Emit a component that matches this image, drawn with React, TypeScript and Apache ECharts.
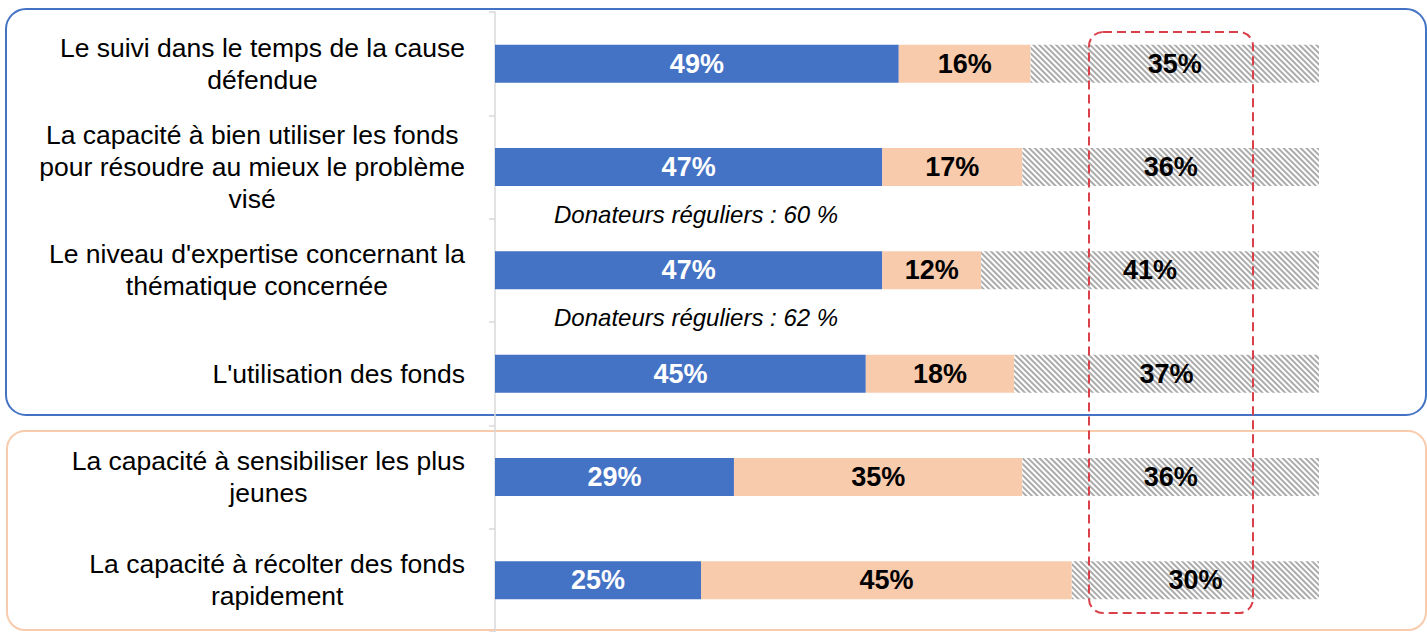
import React, { useEffect, useRef } from "react";
import * as echarts from "echarts";

const categories = [
  "Le suivi dans le temps de la cause\ndéfendue",
  "La capacité à bien utiliser les fonds\npour résoudre au mieux le problème\nvisé",
  "Le niveau d'expertise concernant la\nthématique concernée",
  "L'utilisation des fonds",
  "La capacité à sensibiliser les plus\njeunes",
  "La capacité à récolter des fonds\nrapidement",
];
const goodValues = [49, 47, 47, 45, 29, 25];
const averageValues = [16, 17, 12, 18, 35, 45];
const unknownValues = [35, 36, 41, 37, 36, 30];
const notes = ["Donateurs réguliers : 60 %", "Donateurs réguliers : 62 %"];

const FONT = "'Liberation Sans', Arial, sans-serif";

export default function App() {
  const ref = useRef<HTMLDivElement>(null);
  useEffect(() => {
    if (!ref.current) return;
    const chart = echarts.init(ref.current, undefined, { renderer: "svg" });
    const barLabel = (color: string) => ({
      show: true,
      position: "inside",
      formatter: "{c}%",
      color,
      fontWeight: "bold",
      fontSize: 27,
      fontFamily: FONT,
    });
    chart.setOption({
      animation: false,
      backgroundColor: "#ffffff",
      grid: { left: 495, top: 12, width: 824, height: 626, containLabel: false },
      xAxis: { type: "value", min: 0, max: 100, show: false },
      yAxis: {
        type: "category",
        inverse: true,
        data: categories,
        axisLine: { show: true, lineStyle: { color: "#d9d9d9", width: 1.5 } },
        axisTick: { show: true, length: 6, lineStyle: { color: "#d9d9d9", width: 1.5 } },
        axisLabel: {
          margin: 30,
          align: "right",
          formatter: (v: string) =>
            v
              .split("\n")
              .map((l) => `{c|${l}}`)
              .join("\n"),
          rich: {
            c: {
              align: "center",
              fontSize: 26.5,
              lineHeight: 32,
              color: "#000",
              fontFamily: FONT,
            },
          },
        },
      },
      series: [
        {
          name: "Bonne",
          type: "bar",
          stack: "t",
          barWidth: 38,
          data: goodValues,
          itemStyle: { color: "#4472C4" },
          label: barLabel("#ffffff"),
        },
        {
          name: "Moyenne",
          type: "bar",
          stack: "t",
          barWidth: 38,
          data: averageValues,
          itemStyle: { color: "#F8CBAD" },
          label: barLabel("#000000"),
        },
        {
          name: "Ne sait pas",
          type: "bar",
          stack: "t",
          barWidth: 38,
          data: unknownValues,
          itemStyle: {
            color: "#ffffff",
            decal: {
              symbol: "rect",
              symbolSize: 1,
              color: "#ababab",
              backgroundColor: "#ffffff",
              dashArrayX: [1, 0],
              dashArrayY: [1.1, 1.9],
              rotation: Math.PI / 4,
            },
          },
          label: barLabel("#000000"),
        },
      ],
      graphic: [
        {
          type: "rect",
          z: -1,
          shape: { x: 6, y: 9, width: 1420, height: 406, r: 20 },
          style: { fill: "none", stroke: "#4472C4", lineWidth: 2 },
        },
        {
          type: "rect",
          z: -1,
          shape: { x: 7, y: 431, width: 1419, height: 199, r: 18 },
          style: { fill: "none", stroke: "#F8CBAD", lineWidth: 2 },
        },
        {
          type: "rect",
          z: 100,
          shape: { x: 1089, y: 32, width: 164, height: 581, r: 14 },
          style: { fill: "none", stroke: "#D9404A", lineWidth: 2, lineDash: [9, 5] },
        },
        {
          type: "text",
          z: 100,
          x: 554,
          y: 214,
          style: {
            text: notes[0],
            font: `italic 24px ${FONT}`,
            fill: "#000",
            verticalAlign: "middle",
          },
        },
        {
          type: "text",
          z: 100,
          x: 554,
          y: 317,
          style: {
            text: notes[1],
            font: `italic 24px ${FONT}`,
            fill: "#000",
            verticalAlign: "middle",
          },
        },
      ],
    });
    return () => chart.dispose();
  }, []);
  return (
    <div
      ref={ref}
      style={{ position: "fixed", left: 0, top: 0, width: 1427, height: 632 }}
    />
  );
}
